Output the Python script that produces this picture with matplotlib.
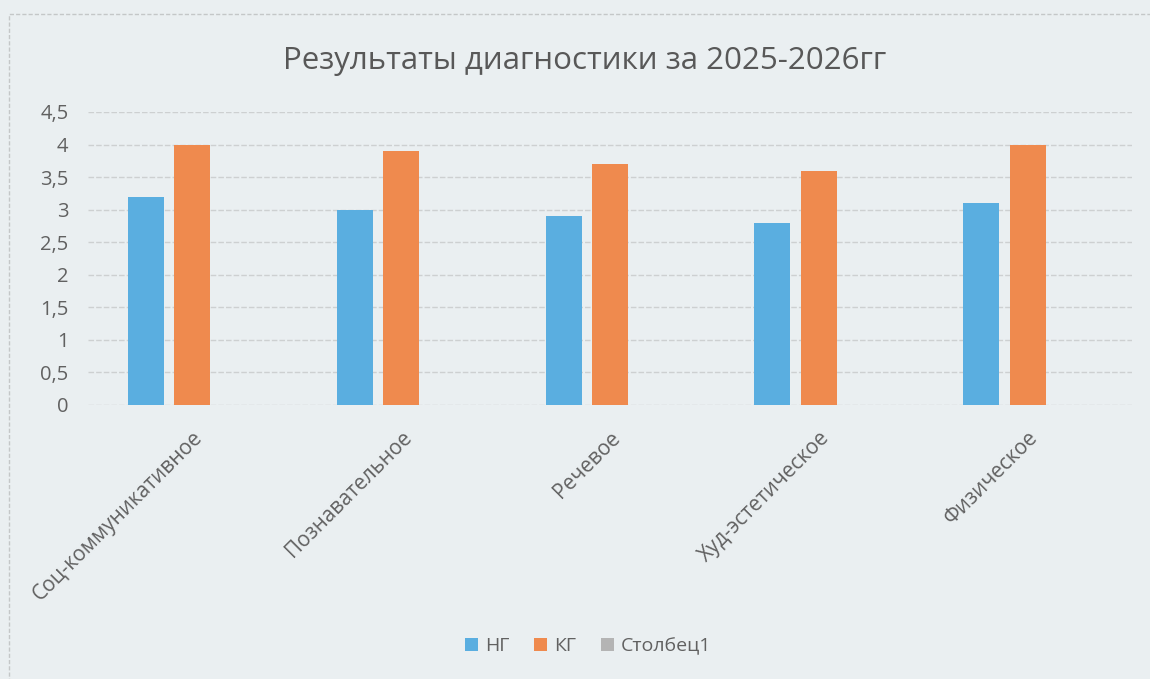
import matplotlib
matplotlib.use("Agg")
import matplotlib.pyplot as plt
from matplotlib.patches import Rectangle
import numpy as np

plt.rcParams['font.family'] = ['Open Sans', 'DejaVu Sans']

# data
categories = ['Соц-коммуникативное', 'Познавательное', 'Речевое',
              'Худ-эстетическое', 'Физическое']
ng = [3.2, 3.0, 2.9, 2.8, 3.1]
kg = [4.0, 3.9, 3.7, 3.6, 4.0]
stolbec1 = [0, 0, 0, 0, 0]
series_names = ['НГ', 'КГ', 'Столбец1']
yticks = [0, 0.5, 1, 1.5, 2, 2.5, 3, 3.5, 4, 4.5]

paper = '#eaeff1'
text_col = '#616161'
colors = ['#5aaee0', '#ef8a4e', '#b4b4b4']

fig = plt.figure(figsize=(11.5, 6.79), dpi=100, facecolor=paper)
ax = fig.add_axes([88 / 1150, 1 - 405 / 679, 1044 / 1150, 293 / 679])
ax.set_facecolor(paper)

x = np.arange(len(categories))
w = 0.172
off = 0.222
ax.bar(x - off, ng, w, color=colors[0], label=series_names[0], zorder=3)
ax.bar(x, kg, w, color=colors[1], label=series_names[1], zorder=3)
ax.bar(x + off, stolbec1, w, color=colors[2], label=series_names[2], zorder=3)

ax.set_xlim(-0.5, 4.5)
ax.set_ylim(0, 4.5)
ax.set_yticks(yticks)
ax.set_yticklabels([('%g' % v).replace('.', ',') for v in yticks])
ax.yaxis.grid(True, color='#cdd0d1', linewidth=1, linestyle=(0, (4, 1.5)), zorder=0)
ax.set_axisbelow(True)
for s in ax.spines.values():
    s.set_visible(False)
ax.tick_params(axis='both', length=0, labelcolor=text_col)
ax.tick_params(axis='y', pad=14, labelsize=14.5)

ax.set_xticks(x)
ax.set_xticklabels(categories, rotation=45, ha='right', va='top',
                   rotation_mode='anchor', fontsize=15)
ax.tick_params(axis='x', pad=16)

fig.text(585 / 1150, 1 - 61 / 679, 'Результаты диагностики за 2025-2026гг',
         ha='center', va='center', fontsize=22.5, color='#585858')

leg = fig.legend(loc='center', bbox_to_anchor=(588 / 1150, 1 - 646 / 679),
                 ncol=3, frameon=False, fontsize=14, handlelength=0.65,
                 handleheight=0.65, handletextpad=0.35, columnspacing=1.3)
for t in leg.get_texts():
    t.set_color(text_col)

# chart frame
fig.patches.append(Rectangle((9 / 1150, -0.05), 1.2, 1 - 14 / 679 + 0.05,
                             transform=fig.transFigure, fill=False,
                             edgecolor='#c4c7c8', linewidth=1,
                             linestyle=(0, (3, 1.5))))

fig.savefig('out.png', dpi=100, facecolor=paper)
